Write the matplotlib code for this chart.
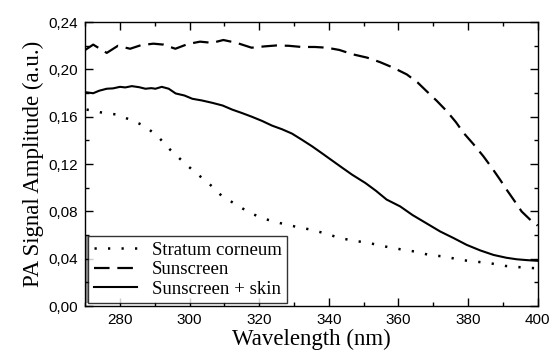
import numpy as np
import matplotlib
matplotlib.use('Agg')
import matplotlib.pyplot as plt
from matplotlib.ticker import MultipleLocator, FuncFormatter
from matplotlib.patches import Rectangle

# Stratum corneum (dotted)
sc_wl = [270.4, 274.3, 279.0, 283.4, 287.2, 291.0, 294.4, 298.2, 301.6, 305.4, 309.2, 313.0,
         317.4, 321.7, 326.0, 330.3, 335.1, 339.4, 343.2, 347.5, 351.8, 356.2, 360.5, 364.8,
         369.1, 373.4, 377.7, 382.0, 386.3, 390.6, 394.9, 400.0]
sc_amp = [0.1661, 0.1638, 0.1619, 0.1570, 0.1520, 0.1430, 0.1322, 0.1218, 0.1130, 0.1040, 0.0932, 0.0864,
          0.0786, 0.0735, 0.0701, 0.0672, 0.0644, 0.0610, 0.0574, 0.0551, 0.0531, 0.0503, 0.0480, 0.0460,
          0.0430, 0.0418, 0.0390, 0.0376, 0.0362, 0.0339, 0.0328, 0.0318]

# Sunscreen (dashed)
ss_wl = [270.0, 272.3, 276.2, 279.4, 282.9, 286.0, 289.6, 292.5, 295.9, 299.5, 303.0, 306.5, 309.7,
         313.5, 317.8, 321.5, 325.0, 328.5, 332.2, 336.0, 339.4, 343.0, 347.0, 351.0, 354.7,
         358.5, 362.4, 365.5, 368.1, 371.0, 373.9, 376.5, 378.7, 381.5, 384.4, 386.8, 389.2,
         391.1, 393.3, 395.4, 398.4, 400.0]
ss_amp = [0.2165, 0.2210, 0.2140, 0.2200, 0.2175, 0.2205, 0.2218, 0.2210, 0.2175, 0.2215, 0.2235, 0.2225, 0.2249,
          0.2225, 0.2184, 0.2195, 0.2203, 0.2200, 0.2190, 0.2190, 0.2184, 0.2165, 0.2127, 0.2100, 0.2062,
          0.2015, 0.1958, 0.1890, 0.1816, 0.1735, 0.1647, 0.1555, 0.1464, 0.1370, 0.1266, 0.1170, 0.1068,
          0.0983, 0.0890, 0.0799, 0.0714, 0.0680]

# Sunscreen + skin (solid)
sk_wl = [270.0, 272.3, 274.0, 276.2, 278.0, 280.0, 281.5, 283.4, 285.5, 287.3, 289.0, 290.2, 292.0,
         294.0, 296.0, 298.5, 300.8, 303.5, 306.5, 309.5, 312.2, 315.0, 317.9, 320.8, 323.7, 326.5,
         329.4, 332.3, 335.2, 338.0, 340.9, 343.8, 346.7, 350.5, 353.5, 356.6, 360.5, 364.0,
         368.0, 372.0, 375.8, 379.6, 383.5, 387.3, 391.0, 394.0, 396.9, 400.0]
sk_amp = [0.1808, 0.1799, 0.1820, 0.1837, 0.1840, 0.1853, 0.1848, 0.1859, 0.1850, 0.1837, 0.1842, 0.1837, 0.1853,
          0.1837, 0.1797, 0.1780, 0.1752, 0.1738, 0.1718, 0.1695, 0.1661, 0.1632, 0.1600, 0.1565, 0.1525, 0.1495,
          0.1458, 0.1405, 0.1350, 0.1292, 0.1231, 0.1170, 0.1110, 0.1040, 0.0975, 0.0900, 0.0842, 0.0770,
          0.0700, 0.0630, 0.0575, 0.0517, 0.0470, 0.0432, 0.0408, 0.0395, 0.0388, 0.0382]

labels = ['Stratum corneum', 'Sunscreen', 'Sunscreen + skin']

serif = ['Liberation Serif', 'DejaVu Serif']
sans = ['Liberation Sans', 'DejaVu Sans']

fig = plt.figure(figsize=(5.51, 3.63), dpi=100)
ax = fig.add_axes([0.1546, 0.157, 0.8212, 0.782])

ax.plot(sc_wl, sc_amp, color='black', lw=1.8, dashes=(0.9, 4.5), label=labels[0])
ax.plot(ss_wl, ss_amp, color='black', lw=1.6, dashes=(7, 3.5), label=labels[1])
ax.plot(sk_wl, sk_amp, color='black', lw=1.5, label=labels[2])

ax.set_xlim(270, 400)
ax.set_ylim(0, 0.24)
ax.xaxis.set_major_locator(MultipleLocator(20))
ax.xaxis.set_minor_locator(MultipleLocator(10))
ax.yaxis.set_major_locator(MultipleLocator(0.04))
ax.yaxis.set_minor_locator(MultipleLocator(0.02))
ax.yaxis.set_major_formatter(FuncFormatter(lambda v, p: f'{v:.2f}'.replace('.', ',')))
ax.tick_params(which='both', direction='in', top=True, right=True, width=1)
ax.tick_params(which='major', length=6, labelsize=11, pad=5)
ax.tick_params(which='minor', length=3)
for lab in ax.get_xticklabels() + ax.get_yticklabels():
    lab.set_family(sans)
for s in ax.spines.values():
    s.set_linewidth(1)

ax.set_xlabel('Wavelength (nm)', family=serif, fontsize=16.5, labelpad=1)
ax.set_ylabel('PA Signal Amplitude (a.u.)', family=serif, fontsize=16.5, labelpad=3)

leg = ax.legend(loc='lower left', prop={'family': serif, 'size': 13.5}, frameon=True, fancybox=False,
                borderaxespad=0.15, handlelength=2.3, labelspacing=0.12, borderpad=0.3,
                handletextpad=0.8)
leg.get_frame().set_edgecolor('black')
leg.get_frame().set_linewidth(1)

fig.canvas.draw()
bb = leg.get_window_extent().transformed(ax.transAxes.inverted())
ax.add_patch(Rectangle((0.0, bb.y0), 0.006, bb.height, transform=ax.transAxes,
                       color='#999999', zorder=1, lw=0))

fig.savefig('out.png', dpi=100)
